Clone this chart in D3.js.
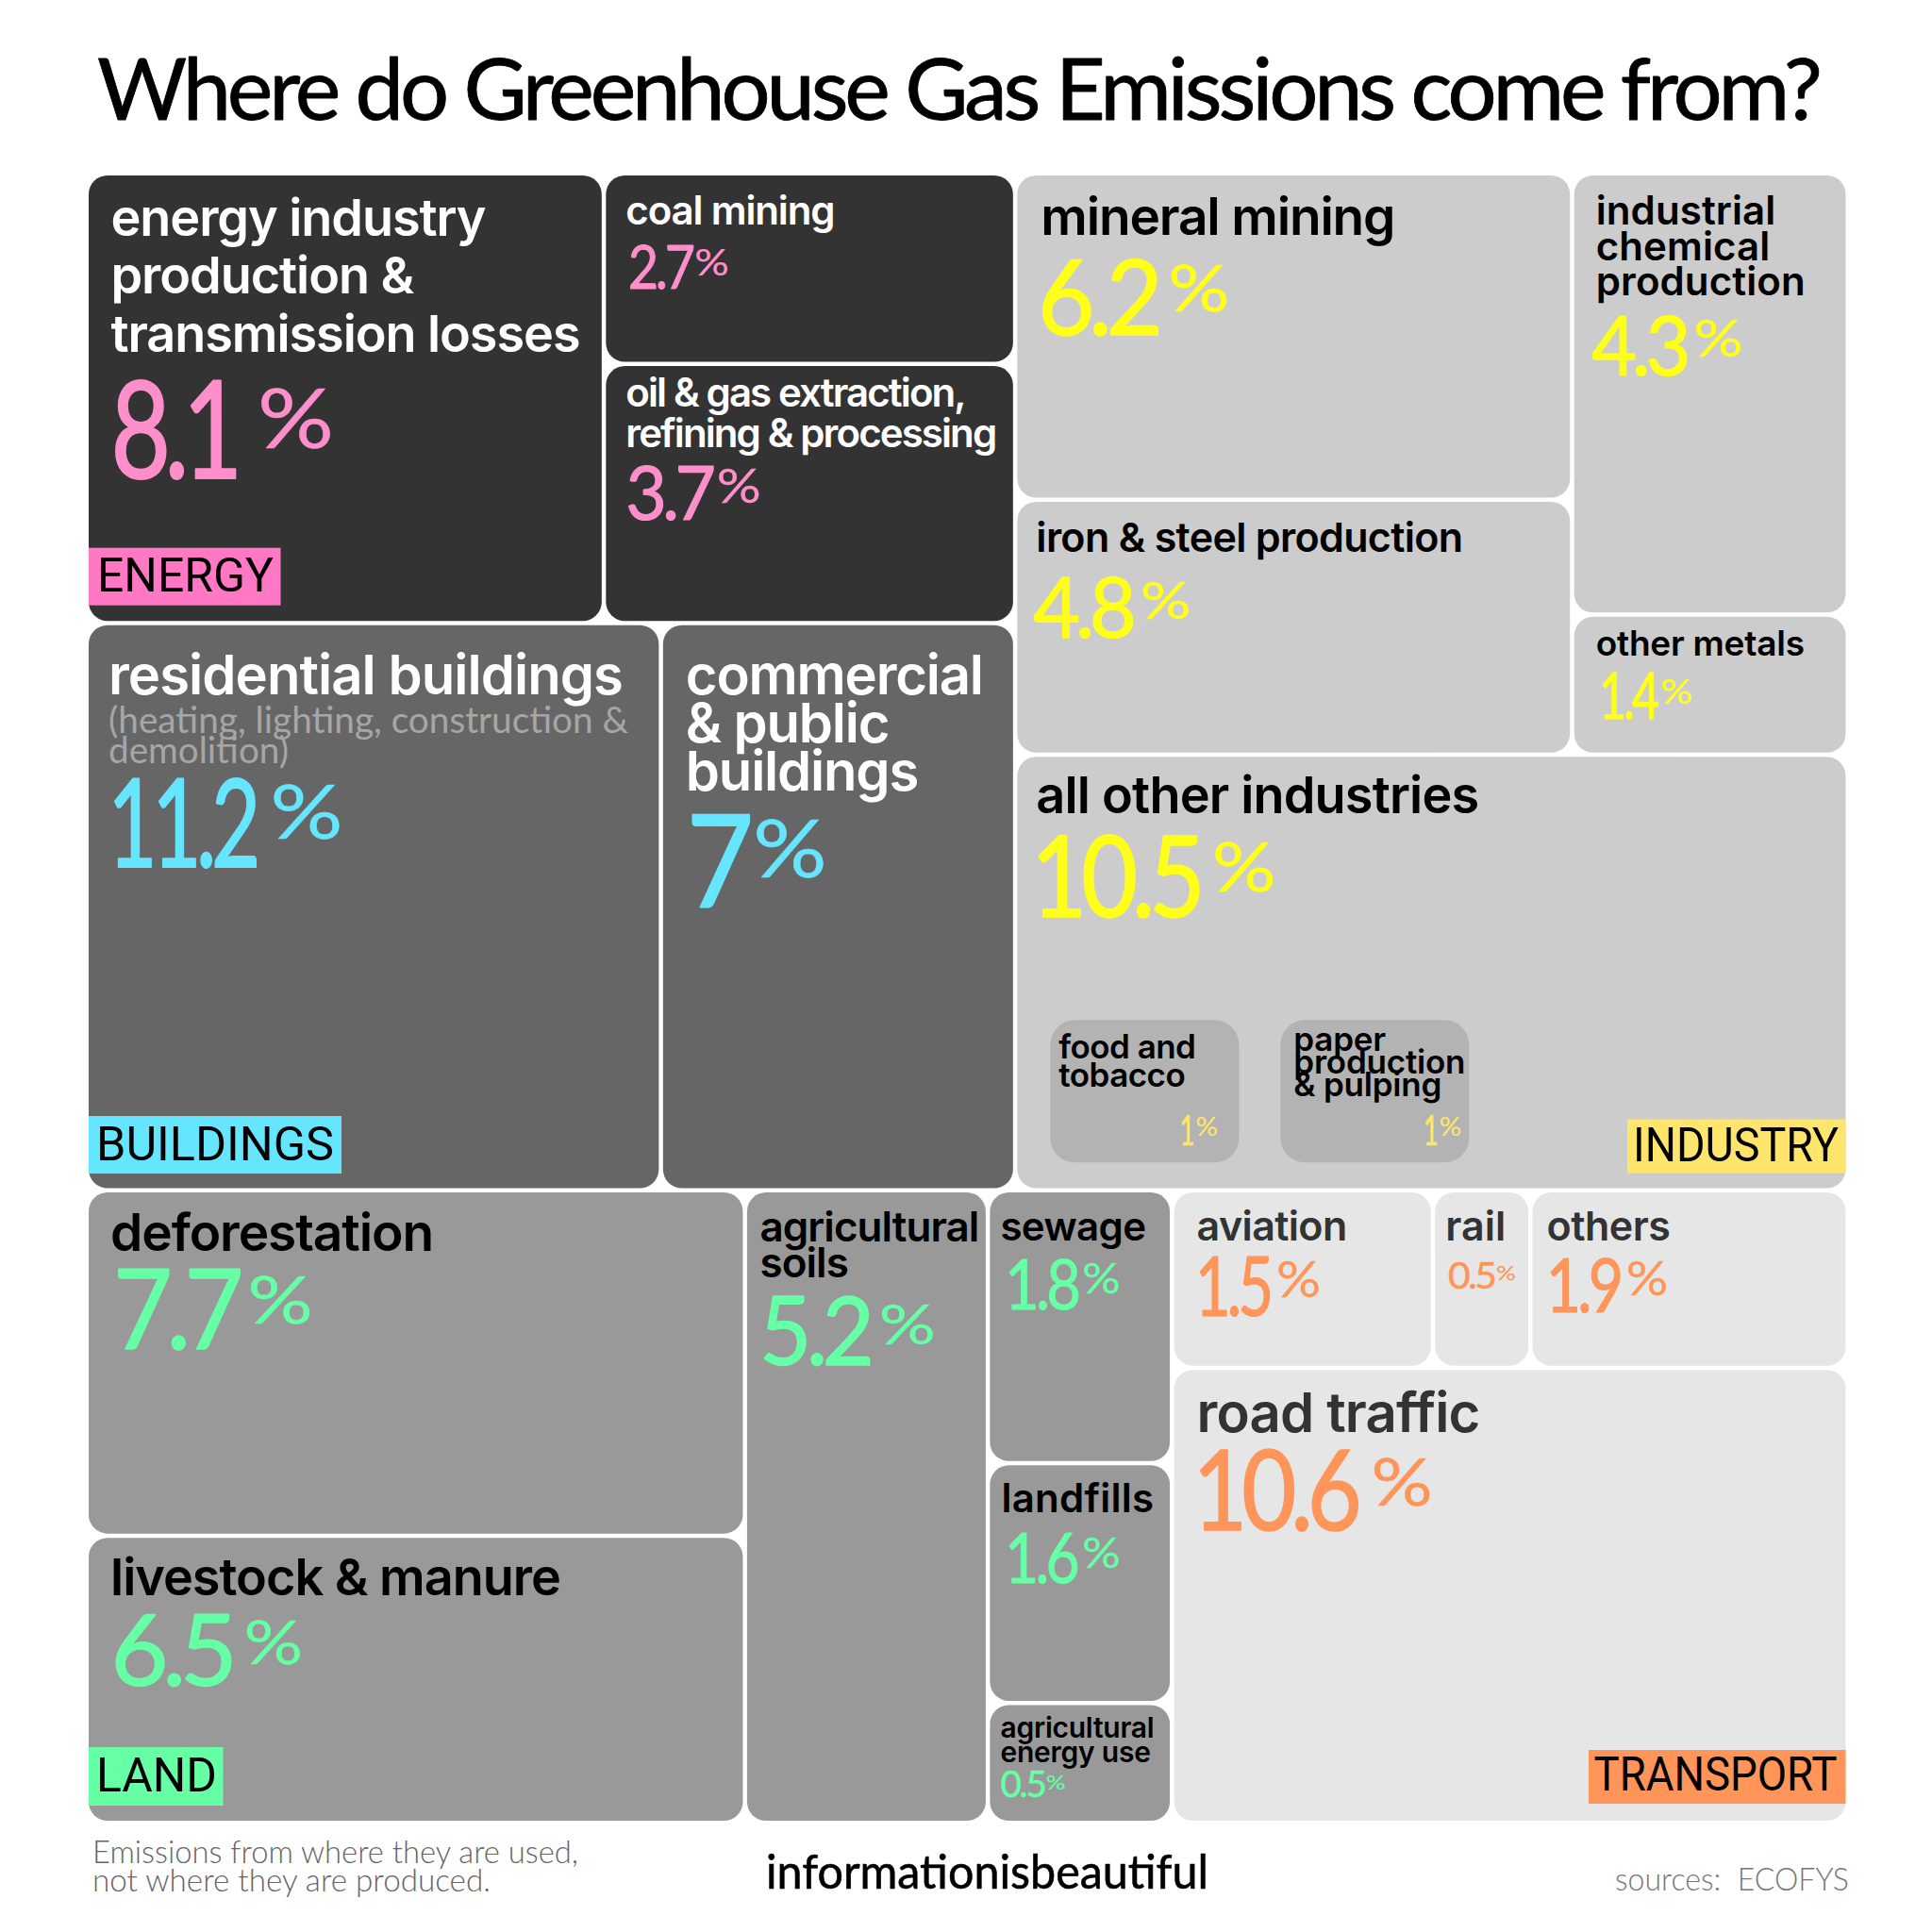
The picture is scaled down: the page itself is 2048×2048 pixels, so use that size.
<!DOCTYPE html>
<html><head><meta charset="utf-8">
<script src="https://cdn.jsdelivr.net/npm/d3@7"></script>
<style>html,body{margin:0;background:#fff}svg{display:block}</style>
</head><body><svg id="c" width="2048" height="2048"></svg>
<script>
// ---- data ----
const categories = ["energy","coal","oil","residential","commercial","mineral","iron","chem","metals","other","deforest","livestock","soils","sewage","landfills","agenergy","aviation","rail","others","road"];
const labels = ["energy industry|production &|transmission losses","coal mining","oil & gas extraction,|refining & processing","residential buildings","commercial|& public|buildings","mineral mining","iron & steel production","industrial|chemical|production","other metals","all other industries","deforestation","livestock & manure","agricultural|soils","sewage","landfills","agricultural|energy use","aviation","rail","others","road traffic"];
const printedShares = [8.1,2.7,3.7,11.2,7,6.2,4.8,4.3,1.4,10.5,7.7,6.5,5.2,1.8,1.6,0.5,1.5,0.5,1.9,10.6];
// share of the whole picture that each box covers (the boxes are drawn close to, not exactly, the printed share)
const boxShares = [8.01,2.70,3.67,11.22,6.92,6.26,4.89,4.19,1.33,12.49,7.83,6.51,5.29,1.73,1.52,0.76,1.595,0.595,1.94,10.59];
const groups = ["ENERGY","ENERGY","ENERGY","BUILDINGS","BUILDINGS","INDUSTRY","INDUSTRY","INDUSTRY","INDUSTRY","INDUSTRY","LAND","LAND","LAND","LAND","LAND","LAND","TRANSPORT","TRANSPORT","TRANSPORT","TRANSPORT"];
const groupNames = ["ENERGY","BUILDINGS","INDUSTRY","LAND","TRANSPORT"];
const insetNames = ["food and|tobacco","paper|production|& pulping"];
const insetShares = [1,1];
const subNote = ["(heating, lighting, construction &","demolition)"];
const titleText = "Where do Greenhouse Gas Emissions come from?";
const noteLines = ["Emissions from where they are used,","not where they are produced."];
const brandText = "informationisbeautiful";
const sourceText = "sources:  ECOFYS";
// nesting of the boxes: r = side by side, c = stacked
const nesting = ["c",
  ["r",
    ["c",["r","energy",["c","coal","oil"]],["r","residential","commercial"]],
    ["c",["r",["c","mineral","iron"],["c","chem","metals"]],"other"]],
  ["r",
    ["c","deforest","livestock"],"soils",["c","sewage","landfills","agenergy"],
    ["c",["r","aviation","rail","others"],"road"]]];

// ---- styles ----
const boxFill = d3.scaleOrdinal(groupNames,["#333333","#666666","#CCCCCC","#999999","#E6E6E6"]);
const valueFill = d3.scaleOrdinal(groupNames,["#FF8FCB","#66E5FF","#FFFF1A","#66FFA6","#FF9559"]);
const tagFill = d3.scaleOrdinal(groupNames,["#FF78C4","#66E5FF","#FFE56B","#66FFA6","#FF9559"]);
const nameFill = d3.scaleOrdinal(groupNames,["#fff","#fff","#000","#000","#333"]);
const FONT_NAME="Inter, sans-serif", FONT_NUM="Lato, sans-serif";
const K=1.306;
// dx, first baseline, font size, line height, value baseline, value size, percent size, width of longest name line
const S = {
 energy:[23.5,63.5,54,61.5,321,144,88,497], coal:[21,52,42,44,120,64,38,221], oil:[21,43,42,43,163,80,50,392],
 residential:[21,73,58,51,256,130,80,545], commercial:[24,73,58,51,298,135,85,315],
 mineral:[25,63,55,50,169,110,68,375], iron:[20,53,43,50,144,90,55,452], chem:[23,52,42,37.7,212,88,54,222], metals:[23,41,37,40,108,68,36,221],
 other:[20,60,54,50,170,120,72,469], deforest:[23,62,55,50,166,118,70,342], livestock:[23,61,54,50,157,105,64,477],
 soils:[13.5,52,44,37.7,183,100,58,232], sewage:[11,51,42,40,124,74,44,154], landfills:[12,50,42,40,125,74,44,162], agenergy:[11,34.5,30,26,98,38,22,163],
 aviation:[24,51,43,40,131,88,52,159], rail:[11,51,43,40,102,38,22,64], others:[15,51,43,40,127,80,50,131], road:[24,66,58,50,170,118,70,300]
};
// value text: dx, digits width, gap, percent width (in reference-view units, scaled by K)
const VT = {
 energy:[18,102,17,62],coal:[18,52,2,28],oil:[16,70,4,36],residential:[15.5,120,12,59],commercial:[19,49,5,60],
 mineral:[16.5,97,9,50],iron:[13,80,7,41],chem:[14,77,6,40],metals:[20,47,3,26],other:[11,137,10,52],
 deforest:[20,101,8,53],livestock:[18,98,10,48],soils:[10,89,8,46],sewage:[12,59,4,31],landfills:[12,58,5,31],agenergy:[8.5,36,1,16],
 aviation:[17,61,5,36],rail:[10.5,38,1,16],others:[11,60,5,34],road:[15,133,12,50]
};
const tagStyle = {
 energy:{g:"ENERGY",side:"l",bot:16.5,h:61,w:203.5,tx:9,ty:46,tw:187},
 residential:{g:"BUILDINGS",side:"l",bot:15.5,h:61,w:268,tx:8,ty:46.5,tw:252},
 other:{g:"INDUSTRY",side:"r",bot:16,h:57,w:231.5,tx:6,ty:44,tw:218},
 livestock:{g:"LAND",side:"l",bot:16,h:62,w:142.5,tx:8,ty:47,tw:128},
 road:{g:"TRANSPORT",side:"r",bot:18,h:57,w:272.5,tx:5.5,ty:43,tw:258}
};
const insetStyle=[{dx:9,dy:41,lh:30,w:145,v:[105,11,2,18]},{dx:14,dy:33,lh:24,w:182,v:[116,11,2,18]}];

const byName = new Map(categories.map((n,i)=>[n,{name:n,label:labels[i],printed:printedShares[i],share:boxShares[i],group:groups[i]}]));
const toTree = n => typeof n==="string" ? byName.get(n) : {dir:n[0],children:n.slice(1).map(toTree)};
const root = d3.hierarchy(toTree(nesting)).sum(d=>d.children?0:d.share);
const W=1862.5,H=1744,X0=94,Y0=186;
d3.treemap().size([W,H]).paddingInner(4.5)
  .tile((node,x0,y0,x1,y1)=>(node.data.dir==="r"?d3.treemapDice:d3.treemapSlice)(node,x0,y0,x1,y1))(root);

const svg=d3.select("#c");
svg.append("text").attr("x",103).attr("y",127).attr("font-family",FONT_NUM).attr("font-size",92)
  .attr("fill","#000").attr("stroke","#000").attr("stroke-width",0.8).attr("stroke-linejoin","round")
  .attr("textLength",1829).attr("lengthAdjust","spacing").text(titleText);

const g=svg.append("g").attr("transform",`translate(${X0},${Y0})`);
const leaf=g.selectAll("g.leaf").data(root.leaves()).join("g").attr("class","leaf")
  .attr("transform",d=>`translate(${d.x0},${d.y0})`);
leaf.append("rect").attr("width",d=>d.x1-d.x0).attr("height",d=>d.y1-d.y0).attr("rx",20)
  .attr("fill",d=>boxFill(d.data.group));

function valueText(sel,v,vt,y,fs,pfs,color){
  const [dx,vw,gap,pw]=vt.map(n=>n*K);
  const mk=(x,yy,size,txt,w,sw)=>sel.append("text").attr("x",x).attr("y",yy).attr("font-family",FONT_NUM)
    .attr("font-size",size).attr("fill",color).attr("stroke",color).attr("stroke-width",size*sw)
    .attr("stroke-linejoin","round").attr("textLength",w).attr("lengthAdjust","spacingAndGlyphs").text(txt);
  mk(dx,y,fs,String(v),vw,0.014).attr("letter-spacing",-fs*0.06);
  mk(dx+vw+gap,y-fs*0.225,pfs,"%",pw,0.006);
}
function nameLines(sel,text,x,y,fs,lh,color,fit){
  const lines=text.split("|");
  const ts=lines.map((ln,i)=>sel.append("text").attr("x",x).attr("y",y+i*lh).attr("font-family",FONT_NAME).attr("font-weight",600)
      .attr("font-size",fs).attr("fill",color).attr("letter-spacing",0).text(ln));
  const longest=d3.max(ts,t=>t.node().getComputedTextLength());
  const il=d3.greatestIndex(ts,t=>t.node().getComputedTextLength());
  const ls=(fit-longest)/lines[il].length;
  ts.forEach(t=>t.attr("letter-spacing",ls));
}
leaf.each(function(d){
  const s=S[d.data.name], sel=d3.select(this);
  nameLines(sel,d.data.label,s[0],s[1],s[2],s[3],nameFill(d.data.group),s[7]);
  valueText(sel,d.data.printed,VT[d.data.name],s[4],s[5],s[6],valueFill(d.data.group));
  if(d.data.name==="residential"){
    const subW=[551,191];
    subNote.forEach((ln,i)=>sel.append("text").attr("x",s[0]).attr("y",114+i*32.5).attr("font-family",FONT_NUM)
      .attr("font-size",38).attr("fill","#A6A6A6").attr("textLength",subW[i]).attr("lengthAdjust","spacingAndGlyphs").text(ln));
  }
  const ts=tagStyle[d.data.name];
  if(ts){
    const w=d.x1-d.x0,h=d.y1-d.y0,x=ts.side==="l"?0:w-ts.w,y=h-ts.bot-ts.h;
    sel.append("rect").attr("x",x).attr("y",y).attr("width",ts.w).attr("height",ts.h).attr("fill",tagFill(ts.g));
    sel.append("text").attr("x",x+ts.tx).attr("y",y+ts.ty).attr("font-family","Roboto, sans-serif").attr("font-size",50)
      .attr("fill","#000").attr("textLength",ts.tw).attr("lengthAdjust","spacingAndGlyphs").text(ts.g);
  }
  if(d.data.name==="other"){
    const xI=d3.scaleBand().domain(insetNames).range([35,479]).paddingInner(0.18).paddingOuter(0);
    const hI=d3.scaleLinear().domain([0,1]).range([0,151]);
    insetNames.forEach((nm,i)=>{
      const st=insetStyle[i], top=279, bx=xI(nm);
      const gi=sel.append("g").attr("transform",`translate(${bx},${top})`);
      gi.append("rect").attr("width",xI.bandwidth()).attr("height",hI(insetShares[i])).attr("rx",26).attr("fill","#B3B3B3");
      nameLines(gi,nm,st.dx,st.dy,35,st.lh,"#000",st.w);
      valueText(gi,insetShares[i],st.v,133,44,26,tagFill("INDUSTRY"));
    });
  }
});

const foot=(t,x,y,fs,col,font,sw,len)=>svg.append("text").attr("x",x).attr("y",y).attr("font-size",fs).attr("fill",col)
  .attr("font-family",font).attr("stroke",col).attr("stroke-width",sw||0).attr("textLength",len).attr("lengthAdjust","spacingAndGlyphs")
  .style("white-space","pre").text(t);
const noteW=[515,422];
noteLines.forEach((t,i)=>foot(t,98,1975+i*30,34,"#666",FONT_NUM,0,noteW[i]).attr("font-weight",300));
foot(brandText,812,2001.7,50,"#000",FONT_NUM,0.6,469);
foot(sourceText,1712,2004,33,"#777",FONT_NUM,0,248).attr("font-weight",300);
</script></body></html>
